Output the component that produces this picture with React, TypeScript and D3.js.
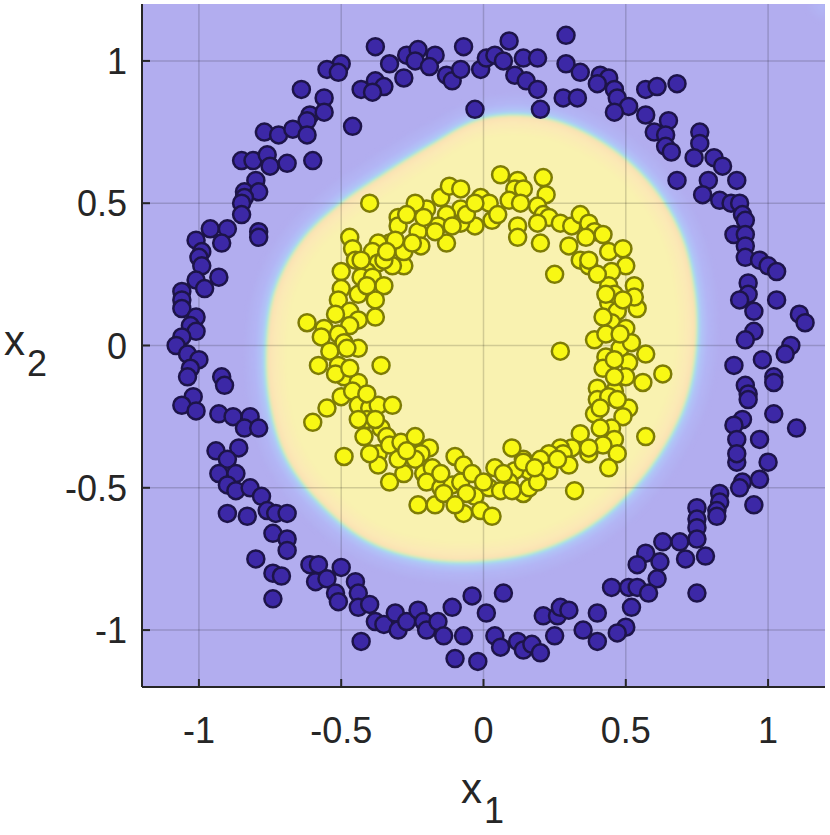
import React, { useMemo } from "react";
import * as d3 from "d3";

const W = 830;
const H = 835;
const PLOT = { left: 142, right: 825, top: 4, bottom: 687 };
const X_DOMAIN: [number, number] = [-1.2, 1.2];
const Y_DOMAIN: [number, number] = [-1.2, 1.2];
const TICKS = [-1, -0.5, 0, 0.5, 1];
const TICK_LABELS = ["-1", "-0.5", "0", "0.5", "1"];

// Decision boundary of the classifier: radius at evenly spaced angles (degrees)
const boundaryAngles = [0, 15, 30, 45, 60, 75, 90, 105, 120, 135, 150, 165, 180, 195, 210, 225, 240, 255, 270, 285, 300, 315, 330, 345];
const boundaryRadii = [0.75, 0.77, 0.8, 0.82, 0.83, 0.83, 0.8, 0.73, 0.7, 0.71, 0.74, 0.76, 0.765, 0.78, 0.8, 0.8, 0.8, 0.78, 0.76, 0.75, 0.74, 0.73, 0.73, 0.74];

// Class 1 (outer ring)
const outerClass: [number, number][] = [
  [-0.50, 0.99], [-0.55, 0.97], [-0.51, 0.96], [-0.64, 0.90], [-0.56, 0.87], [-0.43, 0.90], [-0.61, 0.81], [-0.56, 0.82], [-0.62, 0.79], [-0.77, 0.75],
  [-0.72, 0.74], [-0.67, 0.76], [-0.62, 0.74], [-0.46, 0.77], [-0.85, 0.65], [-0.81, 0.65], [-0.76, 0.67], [-0.75, 0.63], [-0.69, 0.64], [-0.60, 0.65],
  [-0.80, 0.58], [-0.84, 0.54], [-0.79, 0.54], [-0.84, 0.52], [-0.85, 0.50], [-0.85, 0.46], [-0.96, 0.41], [-0.90, 0.41], [-0.79, 0.40],
  [-0.38, 1.05], [-0.33, 0.99], [-0.27, 1.02], [-0.23, 1.04], [-0.24, 1.00], [-0.17, 1.02], [-0.19, 0.98], [-0.13, 0.95], [-0.11, 0.93], [-0.08, 0.97],
  [-0.07, 1.05], [-0.01, 0.97], [0.01, 1.01], [0.04, 1.02], [0.07, 1.00], [0.09, 1.07], [0.11, 0.95], [0.14, 1.01], [0.19, 1.01], [0.15, 0.93],
  [0.19, 0.90], [0.20, 0.83], [0.29, 1.09], [0.29, 0.99], [0.34, 0.96], [0.28, 0.87], [0.33, 0.87], [-0.03, 0.83], [-0.38, 0.93], [-0.35, 0.91],
  [-0.39, 0.89], [-0.28, 0.94],
  [0.41, 0.95], [0.44, 0.94], [0.40, 0.92], [0.46, 0.90], [0.47, 0.87], [0.51, 0.84], [0.46, 0.82], [0.57, 0.90], [0.61, 0.91], [0.68, 0.92],
  [0.57, 0.81], [0.60, 0.75], [0.65, 0.79], [0.64, 0.74], [0.64, 0.70], [0.66, 0.68], [0.76, 0.75], [0.76, 0.71], [0.74, 0.66], [0.81, 0.66],
  [0.84, 0.63], [0.68, 0.58], [0.79, 0.58], [0.89, 0.58], [0.77, 0.53], [0.83, 0.51], [0.87, 0.50], [0.90, 0.50], [0.91, 0.46], [0.92, 0.44],
  [-1.01, 0.37], [-0.92, 0.36], [-0.79, 0.38], [-0.99, 0.33], [-1.00, 0.31], [-0.99, 0.28], [-1.01, 0.23], [-0.93, 0.24], [-0.98, 0.20], [-1.06, 0.19],
  [-1.06, 0.16], [-1.06, 0.13], [-1.01, 0.10], [-1.03, 0.07], [-1.01, 0.05], [-1.06, 0.03], [-1.08, 0.00], [-1.04, -0.03], [-1.00, -0.05], [-1.03, -0.08],
  [-1.04, -0.11], [-0.92, -0.11], [-0.91, -0.14], [-1.02, -0.18], [-1.06, -0.21], [-1.01, -0.23], [-0.93, -0.24], [-0.88, -0.25], [-0.82, -0.25], [-0.84, -0.29],
  [-0.79, -0.29], [-0.94, -0.37], [-0.86, -0.36], [-0.90, -0.40],
  [-0.93, -0.45], [-0.87, -0.45], [-0.90, -0.49], [-0.87, -0.51], [-0.82, -0.50], [-0.78, -0.53], [-0.76, -0.58], [-0.73, -0.59], [-0.69, -0.59], [-0.90, -0.59],
  [-0.83, -0.60], [-0.74, -0.66], [-0.69, -0.68], [-0.69, -0.72], [-0.80, -0.75], [-0.74, -0.80], [-0.71, -0.81], [-0.74, -0.89], [-0.61, -0.77], [-0.58, -0.77],
  [-0.59, -0.83], [-0.55, -0.82], [-0.50, -0.78], [-0.52, -0.87], [-0.51, -0.90], [-0.45, -0.83], [-0.44, -0.87], [-0.44, -0.92], [-0.40, -0.91], [-0.43, -1.04],
  [-0.38, -0.97], [-0.35, -0.98], [-0.31, -0.94], [-0.30, -1.00], [-0.27, -0.97], [-0.23, -0.93], [-0.21, -0.97], [-0.20, -1.00], [-0.16, -0.97], [-0.14, -1.02],
  [-0.11, -0.92], [-0.07, -1.02], [-0.10, -1.10], [-0.04, -0.88], [0.01, -0.94], [-0.02, -1.11], [0.07, -0.87], [0.04, -1.02], [0.06, -1.06], [0.12, -1.04],
  [0.14, -1.07], [0.17, -1.05], [0.20, -1.08], [0.21, -0.95], [0.25, -1.02], [0.26, -0.95], [0.27, -0.92], [0.30, -0.93], [0.35, -1.00], [0.40, -0.94],
  [0.40, -1.04],
  [0.89, -0.41], [1.00, -0.41], [0.91, -0.48], [0.90, -0.50], [0.97, -0.47], [0.95, -0.56], [0.83, -0.52], [0.83, -0.55], [0.82, -0.58], [0.82, -0.60],
  [0.75, -0.57], [0.75, -0.61], [0.75, -0.64], [0.75, -0.68], [0.69, -0.69], [0.63, -0.69], [0.71, -0.75], [0.78, -0.74], [0.57, -0.73], [0.54, -0.77],
  [0.62, -0.76], [0.61, -0.82], [0.45, -0.85], [0.51, -0.85], [0.54, -0.85], [0.58, -0.87], [0.52, -0.92], [0.75, -0.87], [0.50, -0.99], [0.47, -1.01],
  [0.88, 0.39], [0.92, 0.39], [0.92, 0.35], [0.92, 0.31], [0.97, 0.30], [1.00, 0.28], [1.03, 0.26], [0.93, 0.22], [0.93, 0.18], [0.90, 0.16],
  [1.03, 0.16], [0.95, 0.12], [1.11, 0.11], [1.13, 0.08], [0.95, 0.05], [0.92, 0.02], [1.08, 0.00], [1.06, -0.03], [0.88, -0.07], [0.98, -0.05],
  [1.02, -0.11], [1.02, -0.13], [0.92, -0.14], [0.93, -0.17], [0.93, -0.19], [1.02, -0.24], [1.10, -0.29], [0.91, -0.26], [0.88, -0.28], [0.89, -0.33],
  [0.97, -0.33], [0.89, -0.38],
];

// Class 2 (inner ring)
const innerClass: [number, number][] = [
  [0.06, 0.60], [0.12, 0.58], [0.21, 0.59], [0.11, 0.55], [0.14, 0.55], [0.22, 0.53], [0.09, 0.51], [0.13, 0.50], [0.19, 0.49], [0.21, 0.46],
  [0.23, 0.45], [0.27, 0.43], [0.31, 0.42], [0.34, 0.46], [0.37, 0.43], [0.39, 0.40], [0.42, 0.39], [0.44, 0.33], [0.49, 0.34], [0.50, 0.28],
  [0.45, 0.26], [0.53, 0.21], [0.54, 0.13], [0.53, 0.17], [0.44, 0.21], [0.44, 0.15], [0.47, 0.12], [0.45, 0.08], [0.50, 0.06], [0.39, 0.02],
  [0.43, 0.04], [0.48, -0.01], [0.52, 0.01], [0.57, -0.03], [0.63, -0.10], [0.43, -0.04], [0.51, -0.06], [0.42, -0.08], [0.50, -0.11], [0.56, -0.13],
  [0.40, -0.15], [0.46, -0.16], [0.40, -0.19], [0.44, -0.18], [0.51, -0.22], [0.49, -0.25], [0.39, -0.24], [0.45, -0.29], [0.41, -0.29], [0.57, -0.32],
  [0.46, -0.33], [0.42, -0.35], [0.47, -0.38], [0.37, -0.38], [0.34, -0.31], [0.31, -0.36], [0.27, -0.36], [0.28, -0.38], [0.23, -0.38], [0.20, -0.40],
  [0.23, -0.44], [0.16, -0.44], [0.14, -0.40], [0.10, -0.36], [0.11, -0.44], [0.09, -0.48], [0.14, -0.52], [0.16, -0.50], [0.32, -0.51], [0.44, -0.43],
  [0.30, -0.42], [0.19, -0.48], [0.25, 0.25], [0.27, -0.02],
  [-0.01, 0.52], [0.02, 0.50], [0.03, 0.44], [-0.03, 0.42], [-0.08, 0.43], [-0.08, 0.48], [-0.13, 0.46], [-0.16, 0.42], [-0.13, 0.36], [-0.15, 0.52],
  [-0.12, 0.56], [-0.08, 0.55], [-0.20, 0.48], [-0.23, 0.40], [-0.22, 0.35], [-0.24, 0.50], [-0.30, 0.45], [-0.30, 0.42], [-0.27, 0.46], [-0.28, 0.28],
  [-0.32, 0.28], [-0.28, 0.33], [-0.33, 0.36], [-0.37, 0.36], [-0.39, 0.33], [-0.37, 0.29], [-0.40, 0.50], [-0.47, 0.38], [-0.46, 0.34], [-0.50, 0.26],
  [-0.45, 0.30], [-0.41, 0.26], [-0.43, 0.24], [-0.39, 0.24], [-0.35, 0.21], [-0.50, 0.20], [-0.38, 0.16], [-0.51, 0.16], [-0.47, 0.12], [-0.38, 0.10],
  [-0.44, 0.09], [-0.47, 0.07], [-0.62, 0.08], [-0.56, 0.06], [-0.57, 0.03], [-0.51, 0.04], [-0.44, -0.01], [-0.49, 0.01], [-0.54, -0.02], [-0.58, -0.07],
  [-0.51, -0.07], [-0.49, -0.11], [-0.44, -0.13], [-0.50, -0.18], [-0.36, -0.07], [-0.46, -0.16], [-0.55, -0.22], [-0.60, -0.27], [-0.44, -0.21], [-0.40, -0.22],
  [-0.37, -0.21], [-0.32, -0.21], [-0.41, -0.26], [-0.42, -0.32], [-0.36, -0.29], [-0.34, -0.32], [-0.37, -0.38], [-0.33, -0.35], [-0.29, -0.34], [-0.24, -0.32],
  [-0.19, -0.36], [-0.22, -0.38], [-0.49, -0.39], [-0.37, -0.42], [-0.33, -0.48], [-0.28, -0.45], [-0.24, -0.40], [-0.21, -0.45], [-0.18, -0.43], [-0.20, -0.48],
  [-0.15, -0.50], [-0.17, -0.56], [-0.23, -0.56], [-0.11, -0.49], [-0.10, -0.39], [-0.07, -0.42], [-0.08, -0.48], [-0.04, -0.45], [-0.07, -0.59], [-0.03, -0.53],
  [-0.01, -0.58], [0.03, -0.60], [0.02, -0.50], [0.04, -0.43], [0.07, -0.45], [0.00, -0.48], [0.14, -0.41],
  [0.12, 0.42], [0.12, 0.38], [0.20, 0.36], [0.19, 0.43], [0.30, 0.35], [0.34, 0.30], [0.37, 0.28], [0.40, 0.25], [0.36, 0.38], [0.46, 0.18],
  [0.49, 0.16], [-0.31, 0.37], [-0.25, 0.36],
  [-0.06, 0.46], [-0.03, 0.50], [0.05, 0.46], [-0.11, 0.42], [-0.17, 0.40], [-0.21, 0.45], [0.37, 0.30], [0.43, 0.18], [0.42, 0.10], [0.48, 0.04],
  [0.46, -0.05], [0.46, -0.11], [0.41, -0.22], [0.47, -0.19], [0.37, -0.36], [0.26, -0.40], [0.18, -0.43], [0.06, -0.51], [0.10, -0.51], [-0.40, -0.38],
  [-0.30, -0.40], [-0.27, -0.37], [-0.15, -0.45], [-0.14, -0.52], [-0.06, -0.52], [-0.10, -0.56], [-0.52, 0.11], [-0.48, -0.01], [-0.52, -0.10], [-0.47, -0.08],
  [-0.41, -0.17], [-0.38, -0.26], [-0.44, -0.26], [-0.43, 0.30], [-0.44, 0.18], [-0.41, 0.21], [-0.35, 0.30], [-0.34, 0.33],
];

const FONT = "'Liberation Sans', Arial, Helvetica, sans-serif";

function boundaryRadius(theta: number): number {
  const n = boundaryRadii.length;
  const stepDeg = 360 / n;
  let deg = (theta * 180) / Math.PI;
  deg = ((deg % 360) + 360) % 360;
  const t = (deg - boundaryAngles[0]) / stepDeg;
  const i = Math.floor(t);
  const f = t - i;
  const p0 = boundaryRadii[(i - 1 + n) % n];
  const p1 = boundaryRadii[i % n];
  const p2 = boundaryRadii[(i + 1) % n];
  const p3 = boundaryRadii[(i + 2) % n];
  return 0.5 * (2 * p1 + (-p0 + p2) * f + (2 * p0 - 5 * p1 + 4 * p2 - p3) * f * f + (-p0 + 3 * p1 - 3 * p2 + p3) * f * f * f);
}

export default function App() {
  const x = d3.scaleLinear().domain(X_DOMAIN).range([PLOT.left, PLOT.right]);
  const y = d3.scaleLinear().domain(Y_DOMAIN).range([PLOT.bottom, PLOT.top]);

  const color = d3
    .scaleLinear<string>()
    .domain([-0.08, -0.035, -0.012, -0.004, 0.0, 0.004, 0.012, 0.03, 0.075])
    .range(["#b2adef", "#b3b6f5", "#b0c6f7", "#a9dbee", "#a9e8d8", "#d6ecb4", "#fbe2b4", "#fbe9b6", "#f9f2b0"])
    .interpolate(d3.interpolateRgb)
    .clamp(true);

  const layers = useMemo(() => {
    const n = 240;
    const step = (X_DOMAIN[1] - X_DOMAIN[0]) / n;
    const values = new Array(n * n);
    for (let j = 0; j < n; j++) {
      const yv = Y_DOMAIN[1] - (j + 0.5) * step;
      for (let i = 0; i < n; i++) {
        const xv = X_DOMAIN[0] + (i + 0.5) * step;
        const r = Math.hypot(xv, yv);
        const th = Math.atan2(yv, xv);
        let d = boundaryRadius(th) - r;
        const dc = -0.02 - 0.9 * Math.hypot(xv - X_DOMAIN[1], yv - Y_DOMAIN[1]);
        d = Math.max(d, dc);
        values[j * n + i] = d;
      }
    }
    const thresholds = d3.range(-0.08, 0.078, 0.002);
    const contours = d3.contours().size([n, n]).thresholds(thresholds)(values);
    const proj = d3.geoTransform({
      point(px: number, py: number) {
        (this as any).stream.point(x(X_DOMAIN[0] + px * step), y(Y_DOMAIN[1] - py * step));
      },
    });
    const path = d3.geoPath(proj as any);
    return contours.map((c) => ({ d: path(c as any) || "", fill: color(c.value + 0.001) }));
  }, []);

  return (
    <svg
      width={W}
      height={H}
      style={{ position: "absolute", left: 0, top: 0, background: "#fff" }}
      fontFamily={FONT}
    >
      <defs>
        <clipPath id="plotClip">
          <rect x={PLOT.left} y={PLOT.top} width={PLOT.right - PLOT.left} height={PLOT.bottom - PLOT.top} />
        </clipPath>
        <filter id="soft" x="-5%" y="-5%" width="110%" height="110%">
          <feGaussianBlur stdDeviation="1.0" />
        </filter>
      </defs>

      <g clipPath="url(#plotClip)">
        <rect x={PLOT.left} y={PLOT.top} width={PLOT.right - PLOT.left} height={PLOT.bottom - PLOT.top} fill={color(-0.08)} />
        <g filter="url(#soft)">
          {layers.map((l, i) => (
            <path key={i} d={l.d} fill={l.fill} stroke="none" />
          ))}
        </g>
      </g>

      {/* grid */}
      <g stroke="#000" strokeOpacity={0.16} strokeWidth={1.5}>
        {TICKS.map((t) => (
          <line key={"gx" + t} x1={x(t)} x2={x(t)} y1={PLOT.top} y2={PLOT.bottom} />
        ))}
        {TICKS.map((t) => (
          <line key={"gy" + t} x1={PLOT.left} x2={PLOT.right} y1={y(t)} y2={y(t)} />
        ))}
      </g>

      {/* points */}
      <g>
        {outerClass.map(([px, py], i) => (
          <circle key={"o" + i} cx={x(px)} cy={y(py)} r={8.5} fill="#3c28a6" stroke="#1d1449" strokeWidth={2.5} />
        ))}
        {innerClass.map(([px, py], i) => (
          <circle key={"in" + i} cx={x(px)} cy={y(py)} r={8.5} fill="#f8f814" stroke="#7e7c06" strokeWidth={2.5} />
        ))}
      </g>

      {/* axes */}
      <g stroke="#262626" strokeWidth={2} fill="none">
        <line x1={PLOT.left} x2={PLOT.left} y1={PLOT.top} y2={PLOT.bottom} />
        <line x1={PLOT.left} x2={PLOT.right} y1={PLOT.bottom} y2={PLOT.bottom} />
        {TICKS.map((t) => (
          <line key={"tx" + t} x1={x(t)} x2={x(t)} y1={PLOT.bottom} y2={PLOT.bottom - 8} />
        ))}
        {TICKS.map((t) => (
          <line key={"ty" + t} x1={PLOT.left} x2={PLOT.left + 8} y1={y(t)} y2={y(t)} />
        ))}
      </g>

      <g fill="#262626" fontSize={36}>
        {TICKS.map((t, i) => (
          <text key={"lx" + t} x={x(t)} y={743} textAnchor="middle">
            {TICK_LABELS[i]}
          </text>
        ))}
        {TICKS.map((t, i) => (
          <text key={"ly" + t} x={127} y={y(t) + 13} textAnchor="end">
            {TICK_LABELS[i]}
          </text>
        ))}
      </g>

      <text x={461} y={803} fontSize={42} fill="#262626">
        x
        <tspan dx={2} dy={20} fontSize={36}>1</tspan>
      </text>
      <text x={4} y={355} fontSize={42} fill="#262626">
        x
        <tspan dx={2} dy={21} fontSize={36}>2</tspan>
      </text>
    </svg>
  );
}
